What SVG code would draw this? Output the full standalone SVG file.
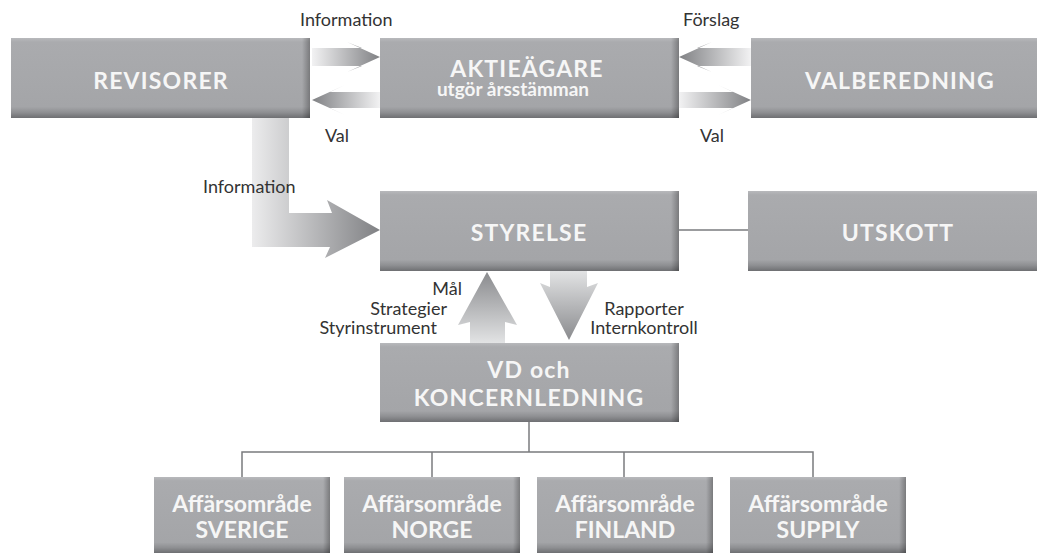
<svg xmlns="http://www.w3.org/2000/svg" width="1037" height="554" viewBox="0 0 1037 554">
<defs>
<linearGradient id="gBox" x1="0" y1="0" x2="0" y2="1">
<stop offset="0" stop-color="#b8b9bc"/>
<stop offset="0.05" stop-color="#aaabae"/>
<stop offset="0.86" stop-color="#a4a5a8"/>
<stop offset="0.93" stop-color="#8e8f92"/>
<stop offset="1" stop-color="#6e6f72"/>
</linearGradient>
<linearGradient id="gRight" x1="0" y1="0" x2="1" y2="0">
<stop offset="0" stop-color="#000" stop-opacity="0"/>
<stop offset="1" stop-color="#000" stop-opacity="0.28"/>
</linearGradient>
<linearGradient id="gR" x1="0" y1="0" x2="1" y2="0">
<stop offset="0" stop-color="#f2f2f3"/>
<stop offset="1" stop-color="#808184"/>
</linearGradient>
<linearGradient id="gL" x1="1" y1="0" x2="0" y2="0">
<stop offset="0" stop-color="#f2f2f3"/>
<stop offset="1" stop-color="#808184"/>
</linearGradient>
<linearGradient id="gU" x1="0" y1="1" x2="0" y2="0">
<stop offset="0" stop-color="#e2e3e4"/>
<stop offset="1" stop-color="#8a8b8e"/>
</linearGradient>
<linearGradient id="gD" x1="0" y1="0" x2="0" y2="1">
<stop offset="0" stop-color="#e2e3e4"/>
<stop offset="1" stop-color="#8a8b8e"/>
</linearGradient>
<linearGradient id="gLshape" gradientUnits="userSpaceOnUse" x1="252" y1="0" x2="380" y2="0">
<stop offset="0" stop-color="#ececed"/>
<stop offset="1" stop-color="#808184"/>
</linearGradient>
</defs>
<style>
.box{fill:url(#gBox)}
.rs{fill:url(#gRight)}
.t{font-family:Lato,"Open Sans","Liberation Sans",sans-serif;font-weight:bold;fill:#f6f6f6;text-anchor:middle}
.big{font-size:23px;letter-spacing:1.2px}
.mid{font-size:19px}
.bot{font-size:23px}
.lbl{font-family:Lato,"Open Sans","Liberation Sans",sans-serif;font-size:18px;fill:#333}
.ln{stroke:#7a7b7e;stroke-width:1.5;fill:none}
</style>

<g id="connectors">
<polygon fill="url(#gR)" points="312,48 362,48 347,42 380,57 347,72 362,66 312,66"/>
<polygon fill="url(#gL)" points="380,92 330,92 345,85 312,100 345,115 330,108 380,108"/>
<polygon fill="url(#gL)" points="751,48 697,48 712,42 679,57 712,72 697,66 751,66"/>
<polygon fill="url(#gR)" points="679,92 733,92 718,85 751,100 718,115 733,108 679,108"/>
<polygon fill="url(#gLshape)" points="252,118 289,118 289,213 332,213 327,200 380,230 325,258 330,247 252,247"/>
<polygon fill="url(#gU)" points="470,343 470,322 458,325 487,272 517,325 505,322 505,343"/>
<polygon fill="url(#gD)" points="550,271 587,271 587,287 598,283 569,340 540,283 550,287"/>
<line class="ln" x1="679" y1="230" x2="748" y2="230"/>
<polyline class="ln" points="529,422 529,452"/>
<polyline class="ln" points="242,477 242,452 813,452 813,477"/>
<line class="ln" x1="432" y1="452" x2="432" y2="477"/>
<line class="ln" x1="624" y1="452" x2="624" y2="477"/>
<text class="lbl" x="300" y="26">Information</text>
<text class="lbl" x="325" y="142">Val</text>
<text class="lbl" x="683" y="26">Förslag</text>
<text class="lbl" x="700" y="142">Val</text>
<text class="lbl" x="203" y="193">Information</text>
<text class="lbl" x="462" y="295" text-anchor="end">Mål</text>
<text class="lbl" x="447" y="315" text-anchor="end">Strategier</text>
<text class="lbl" x="437" y="334" text-anchor="end">Styrinstrument</text>
<text class="lbl" x="644" y="315" text-anchor="middle">Rapporter</text>
<text class="lbl" x="644" y="334" text-anchor="middle">Internkontroll</text>
</g>

<g id="revisorer">
<rect class="box" x="11" y="38" width="299" height="80"/>
<rect class="rs" x="302" y="38" width="8" height="80"/>
<text class="t big" x="161" y="89">REVISORER</text>
</g>
<g id="aktieagare">
<rect class="box" x="380" y="38" width="299" height="80"/>
<rect class="rs" x="671" y="38" width="8" height="80"/>
<text class="t big" x="527" y="77">AKTIEÄGARE</text>
<text class="t mid" x="513" y="96">utgör årsstämman</text>
</g>
<g id="valberedning">
<rect class="box" x="751" y="38" width="298" height="80"/>
<text class="t big" x="900" y="89">VALBEREDNING</text>
</g>
<g id="styrelse">
<rect class="box" x="380" y="191" width="299" height="80"/>
<rect class="rs" x="671" y="191" width="8" height="80"/>
<text class="t big" x="529" y="241">STYRELSE</text>
</g>
<g id="utskott">
<rect class="box" x="748" y="191" width="298" height="80"/>
<text class="t big" x="898" y="241">UTSKOTT</text>
</g>
<g id="vd">
<rect class="box" x="380" y="343" width="299" height="79"/>
<rect class="rs" x="671" y="343" width="8" height="79"/>
<text class="t big" x="529" y="378">VD och</text>
<text class="t big" x="529" y="406">KONCERNLEDNING</text>
</g>
<g id="sverige">
<rect class="box" x="154" y="477" width="176" height="76"/>
<rect class="rs" x="323" y="477" width="7" height="76"/>
<text class="t bot" x="242" y="512">Affärsområde</text>
<text class="t bot" x="242" y="538">SVERIGE</text>
</g>
<g id="norge">
<rect class="box" x="344" y="477" width="176" height="76"/>
<rect class="rs" x="513" y="477" width="7" height="76"/>
<text class="t bot" x="432" y="512">Affärsområde</text>
<text class="t bot" x="432" y="538">NORGE</text>
</g>
<g id="finland">
<rect class="box" x="537" y="477" width="176" height="76"/>
<rect class="rs" x="706" y="477" width="7" height="76"/>
<text class="t bot" x="625" y="512">Affärsområde</text>
<text class="t bot" x="625" y="538">FINLAND</text>
</g>
<g id="supply">
<rect class="box" x="730" y="477" width="176" height="76"/>
<rect class="rs" x="899" y="477" width="7" height="76"/>
<text class="t bot" x="818" y="512">Affärsområde</text>
<text class="t bot" x="818" y="538">SUPPLY</text>
</g>
</svg>
